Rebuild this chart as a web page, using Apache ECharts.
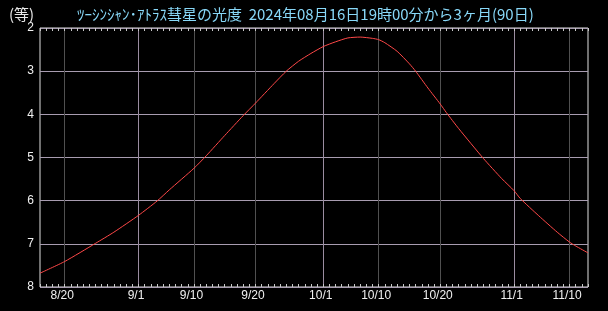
<!DOCTYPE html>
<html>
<head>
<meta charset="utf-8">
<script src="https://cdn.jsdelivr.net/npm/echarts@6/dist/echarts.min.js"></script>
<style>
html,body{margin:0;padding:0;background:#000;}
#c{width:608px;height:311px;}
</style>
</head>
<body>
<div id="c"></div>
<script>
// day index 0 = 8/16, 89 = 11/13
const startMonth = 8, startDay = 16, dayCount = 90;
const labelDays = [4, 16, 25, 35, 46, 55, 65, 77, 86];
const labelTexts = ['8/20', '9/1', '9/10', '9/20', '10/1', '10/10', '10/20', '11/1', '11/10'];
const obsDays = [0, 4, 9, 12, 16, 19, 21, 25, 27, 30, 33, 35, 38, 40, 42, 44, 46, 48, 50, 52, 54, 55, 56, 58, 60, 61, 63, 65, 66, 68, 72, 75, 77, 78, 81, 84, 86, 87, 89];
const magnitudes = [7.68, 7.41, 6.99, 6.73, 6.34, 6.01, 5.75, 5.25, 4.96, 4.49, 4.03, 3.74, 3.29, 3.00, 2.77, 2.59, 2.43, 2.32, 2.23, 2.21, 2.24, 2.27, 2.34, 2.54, 2.83, 3.00, 3.39, 3.76, 3.96, 4.33, 5.02, 5.49, 5.77, 5.95, 6.35, 6.73, 6.96, 7.05, 7.21];
const yTicks = [2, 3, 4, 5, 6, 7, 8];
const titleText = 'ﾂｰｼﾝｼｬﾝ･ｱﾄﾗｽ彗星の光度  2024年08月16日19時00分から3ヶ月(90日)';
const unitText = '(等)';

const categories = [];
for (let i = 0; i < dayCount; i++) {
  const d = new Date(2024, startMonth - 1, startDay + i);
  categories.push((d.getMonth() + 1) + '/' + d.getDate());
}
const seriesData = obsDays.map((d, i) => [d, magnitudes[i]]);
const isLabelDay = (idx) => labelDays.indexOf(idx) >= 0;

const chart = echarts.init(document.getElementById('c'), null, {renderer: 'canvas'});
chart.setOption({
  backgroundColor: '#000',
  animation: false,
  title: [{
    text: titleText, left: 72, top: 2,
    textStyle: {color: '#88d8f8', fontSize: 15, fontWeight: 'normal', fontFamily: '"Noto Sans CJK JP", sans-serif'}
  }, {
    text: unitText, left: 4, top: 2,
    textStyle: {color: '#e8e8e8', fontSize: 15, fontWeight: 'normal', fontFamily: '"Noto Sans CJK JP", sans-serif'}
  }],
  grid: {left: 40, right: 20, top: 28, bottom: 24, show: true, borderColor: '#e0e0e0', borderWidth: 1, backgroundColor: 'transparent'},
  xAxis: [{
    type: 'category', data: categories, boundaryGap: false, position: 'bottom',
    axisLine: {show: false},
    axisTick: {show: true, inside: true, length: 3, interval: 0, lineStyle: {color: '#c8c8c8'}},
    axisLabel: {
      interval: (idx) => isLabelDay(idx),
      formatter: (v, idx) => labelTexts[labelDays.indexOf(idx)] || '',
      color: '#f0f0f0', fontSize: 12, margin: 3, padding: [0, 5, 0, 0],
      fontFamily: '"Liberation Sans Narrow", "Liberation Sans", sans-serif'
    },
    splitLine: {show: true, interval: (idx) => isLabelDay(idx), lineStyle: {color: ['#505050', '#9a8ca0', '#505050'], width: 1}}
  }, {
    type: 'category', data: categories, boundaryGap: false, position: 'top',
    axisLine: {show: false},
    axisTick: {show: true, inside: true, length: 3, interval: 0, lineStyle: {color: '#c8c8c8'}},
    axisLabel: {show: false},
    splitLine: {show: false}
  }],
  yAxis: {
    type: 'value', inverse: true, min: 2, max: 8, interval: 1,
    axisLine: {show: false}, axisTick: {show: false},
    axisLabel: {color: '#f0f0f0', fontSize: 12, margin: 6,
      fontFamily: '"Liberation Sans", sans-serif',
      formatter: (v) => yTicks.indexOf(v) >= 0 ? String(v) : ''},
    splitLine: {show: true, lineStyle: {color: '#a89cb0', width: 1}}
  },
  series: [{
    type: 'line', data: seriesData, xAxisIndex: 0, symbol: 'none', smooth: 0.2,
    lineStyle: {color: '#ff4848', width: 1}
  }]
});
</script>
</body>
</html>
